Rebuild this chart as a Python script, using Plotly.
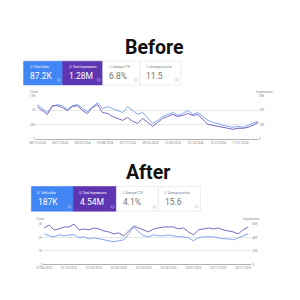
import plotly.graph_objects as go
import pandas as pd

# ---------------- DATA ----------------
# Before (Search Console, ~3 months, points every 2 days)
before_dates = pd.date_range("2024-08-12", periods=45, freq="2D")
before_clicks = [1193, 1057, 920, 1125, 1193, 1159, 1023, 1159, 1193, 1057,
                 955, 1125, 1261, 1057, 1125, 1057, 989, 920, 1125, 989,
                 852, 920, 716, 545, 648, 784, 852, 920, 818, 886,
                 989, 852, 920, 784, 648, 580, 545, 477, 443, 409,
                 443, 409, 477, 545, 614]
before_impr = [22500, 19770, 17045, 23180, 23180, 21820, 19770, 22500, 23180, 19770,
               17730, 21820, 23860, 18410, 17730, 15680, 14320, 12950, 15000, 12270,
               10910, 14320, 11590, 8860, 11590, 14320, 15680, 17045, 15680, 16360,
               17730, 16360, 17045, 13640, 10230, 9545, 8860, 8180, 7500, 6820,
               7500, 7500, 8180, 9545, 11590]
before_tickvals = ["2024-08-12", "2024-08-21", "2024-08-30", "2024-09-08", "2024-09-17",
                   "2024-09-26", "2024-10-05", "2024-10-14", "2024-10-23", "2024-11-01"]
before_ticktext = ["08/12/2024", "08/21/2024", "08/30/2024", "09/08/2024", "09/17/2024",
                   "09/26/2024", "10/05/2024", "10/14/2024", "10/23/2024", "11/01/2024"]
before_cards = ["87.2K", "1.28M", "6.8%", "11.5"]

# After
after_dates = pd.date_range("2025-01-06", periods=42, freq="2D")
after_clicks = [2268, 2122, 2049, 2195, 2122, 2195, 2195, 1976, 2049, 1902,
                1976, 1902, 1829, 1756, 1683, 1756, 1829, 2268, 2780, 2415,
                2122, 2049, 2195, 2122, 2122, 2195, 2122, 2049, 2049, 1976,
                1756, 1976, 2049, 2049, 2049, 1976, 1902, 1902, 1829, 1976,
                2122, 2268]
after_impr = [54150, 58540, 51220, 52680, 55610, 55610, 60000, 51220, 52680, 51220,
              54150, 52680, 49760, 48290, 45370, 46830, 42440, 49760, 57070, 54150,
              51220, 48290, 52680, 54150, 55610, 55610, 55610, 52680, 54150, 48290,
              43900, 51220, 52680, 54150, 52680, 54150, 51220, 49760, 48290, 45370,
              51220, 55610]
after_tickvals = ["2025-01-06", "2025-01-16", "2025-01-26", "2025-02-05", "2025-02-15",
                  "2025-02-25", "2025-03-07", "2025-03-17", "2025-03-27"]
after_ticktext = ["01/06/2025", "01/16/2025", "01/26/2025", "02/05/2025", "02/15/2025",
                  "02/25/2025", "03/07/2025", "03/17/2025", "03/27/2025"]
after_cards = ["187K", "4.54M", "4.1%", "15.6"]

card_labels = ["Total clicks", "Total impressions", "Average CTR", "Average position"]

# ---------------- STYLE ----------------
BLUE = "#4285f4"
PURPLE = "#5e35b1"
LBLUE = "#6f9cf0"
LPURPLE = "#6e55b8"
GREY = "#80868b"
FONT = "Roboto"
W = H = 300


def px(x):
    return x / W


def py(y):
    return 1 - y / H


fig = go.Figure()
fig.add_trace(go.Scatter(x=before_dates, y=before_clicks, xaxis="x", yaxis="y",
                         mode="lines", line=dict(color=LBLUE, width=0.9), name="Clicks"))
fig.add_trace(go.Scatter(x=before_dates, y=before_impr, xaxis="x", yaxis="y2",
                         mode="lines", line=dict(color=LPURPLE, width=0.9), name="Impressions"))
fig.add_trace(go.Scatter(x=after_dates, y=after_clicks, xaxis="x2", yaxis="y3",
                         mode="lines", line=dict(color=LBLUE, width=0.9), name="Clicks"))
fig.add_trace(go.Scatter(x=after_dates, y=after_impr, xaxis="x2", yaxis="y4",
                         mode="lines", line=dict(color=LPURPLE, width=0.9), name="Impressions"))

tickfont = dict(size=3, color="#8a8a8a", family=FONT)
xcommon = dict(type="date", showgrid=False, showline=True, linecolor="#b0b0b0", linewidth=0.7,
               ticks="", tickfont=tickfont, zeroline=False, fixedrange=True, tickmode="array")
ycommon = dict(ticks="", tickfont=tickfont, zeroline=False, fixedrange=True, tickmode="array")

fig.update_layout(
    width=W, height=H, autosize=False,
    margin=dict(l=0, r=0, t=0, b=0),
    paper_bgcolor="white", plot_bgcolor="rgba(0,0,0,0)",
    showlegend=False,
    xaxis=dict(domain=[px(30), px(257)], anchor="y",
               range=["2024-08-11 14:00", "2024-11-08"],
               tickvals=before_tickvals, ticktext=before_ticktext, **xcommon),
    yaxis=dict(domain=[py(139), py(95)], anchor="x", range=[0, 1500],
               tickvals=[0, 500, 1000, 1500], ticktext=["0", "500", "1K", "1.5K"],
               showgrid=True, gridcolor="#e8e8e8", gridwidth=0.6, **ycommon),
    yaxis2=dict(overlaying="y", side="right", anchor="x", range=[0, 30000],
                tickvals=[0, 10000, 20000, 30000], ticktext=["0", "10K", "20K", "30K"],
                showgrid=False, **ycommon),
    xaxis2=dict(domain=[px(37), px(250)], anchor="y3",
                range=["2025-01-05 14:00", "2025-03-30 05:00"],
                tickvals=after_tickvals, ticktext=after_ticktext, **xcommon),
    yaxis3=dict(domain=[py(266), py(225)], anchor="x2", range=[0, 3000],
                tickvals=[0, 1000, 2000, 3000], ticktext=["0", "1K", "2K", "3K"],
                showgrid=True, gridcolor="#e8e8e8", gridwidth=0.6, **ycommon),
    yaxis4=dict(overlaying="y3", side="right", anchor="x2", range=[0, 60000],
                tickvals=[0, 20000, 40000, 60000], ticktext=["0", "20K", "40K", "60K"],
                showgrid=False, **ycommon),
)

shapes = []
annotations = []


def ann(text, x, y, size, color, xanchor="left", bold=False, family=FONT):
    annotations.append(dict(text=("<b>%s</b>" % text) if bold else text,
                            x=px(x), y=py(y), xref="paper", yref="paper",
                            showarrow=False, xanchor=xanchor, yanchor="middle",
                            font=dict(size=size, color=color, family=family)))


def cards(edges, top, bottom, values, label_y, value_y, vsize, icon_y):
    fills = [BLUE, PURPLE, "white", "white"]
    for i in range(4):
        x0, x1 = edges[i], edges[i + 1]
        white = fills[i] == "white"
        shapes.append(dict(type="rect", xref="paper", yref="paper",
                           x0=px(x0), x1=px(x1), y0=py(bottom), y1=py(top),
                           fillcolor=fills[i],
                           line=dict(color="#e3e3e3" if white else fills[i], width=0.6),
                           layer="below"))
        tc = GREY if white else "white"
        box = "☐ " if white else "☑ "
        ann(box + card_labels[i], x0 + 4, label_y, 3, tc)
        ann(values[i], x0 + 4.5, value_y, vsize, "#757575" if white else "white")
        cx = x1 - 4
        shapes.append(dict(type="circle", xref="paper", yref="paper",
                           x0=px(cx - 1.5), x1=px(cx + 1.5), y0=py(icon_y + 1.5), y1=py(icon_y - 1.5),
                           line=dict(color="#b0b0b0" if white else "rgba(255,255,255,0.7)", width=0.5)))


# Titles
ann("Before", 151, 46, 19.5, "#111111", xanchor="center", bold=True)
ann("After", 144, 173, 19.5, "#111111", xanchor="center", bold=True)

cards([17, 57, 98, 136, 178], 60, 84, before_cards, 66, 74.5, 8.5, 79)
cards([25, 68, 112, 155, 198], 187, 212, after_cards, 194, 202.5, 8.5, 207.5)

# axis titles
ann("Clicks", 22, 91, 3, "#8a8a8a")
ann("Impressions", 253, 91, 3, "#8a8a8a")
ann("Clicks", 28, 220, 3, "#8a8a8a")
ann("Impressions", 240, 219.5, 3, "#8a8a8a")

fig.update_layout(shapes=shapes, annotations=annotations)
fig.write_html("out.html")
